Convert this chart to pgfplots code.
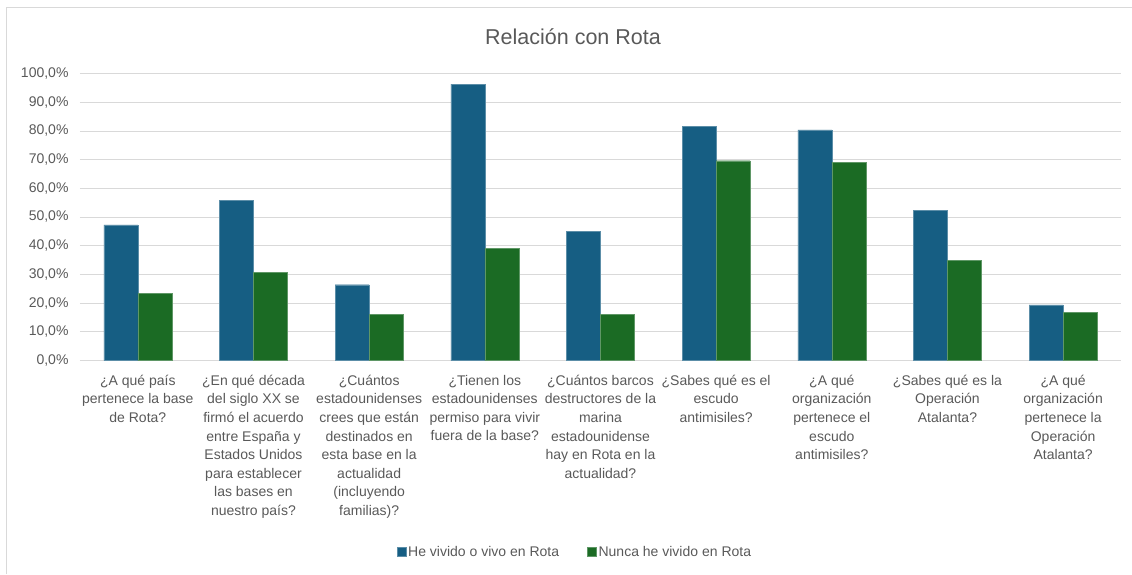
\documentclass[border=0pt]{standalone}
\usepackage{pgfplots}
\pgfplotsset{compat=1.18}
\usepackage{fontspec}
\setmainfont{Liberation Sans}
\definecolor{cblue}{RGB}{22,94,131}
\definecolor{cgreen}{RGB}{27,107,36}
\definecolor{tgray}{RGB}{89,89,89}
\definecolor{ggray}{RGB}{217,217,217}
\begin{document}
\begin{tikzpicture}
\path[use as bounding box] (0pt,0pt) rectangle (1132pt,574pt);
\draw[ggray,line width=0.8pt] (6pt,0pt) -- (6pt,567pt) -- (1132pt,567pt);
\node[text=tgray,font=\fontsize{21.5}{25}\selectfont] at (573pt,537pt) {Relación con Rota};
\begin{axis}[
  at={(80pt,213.5pt)}, anchor=south west,
  scale only axis, width=1041pt, height=287pt,
  xmin=-0.5, xmax=8.5, ymin=0, ymax=100,
  ytick={0,10,...,100},
  xtick={0,...,8},
  xticklabels={
    {¿A qué país\\pertenece la base\\de Rota?},
    {¿En qué década\\del siglo XX se\\firmó el acuerdo\\entre España y\\Estados Unidos\\para establecer\\las bases en\\nuestro país?},
    {¿Cuántos\\estadounidenses\\crees que están\\destinados en\\esta base en la\\actualidad\\(incluyendo\\familias)?},
    {¿Tienen los\\estadounidenses\\permiso para vivir\\fuera de la base?},
    {¿Cuántos barcos\\destructores de la\\marina\\estadounidense\\hay en Rota en la\\actualidad?},
    {¿Sabes qué es el\\escudo\\antimisiles?},
    {¿A qué\\organización\\pertenece el\\escudo\\antimisiles?},
    {¿Sabes qué es la\\Operación\\Atalanta?},
    {¿A qué\\organización\\pertenece la\\Operación\\Atalanta?}
  },
  xticklabel style={align=center, text=tgray, font=\fontsize{14}{18.6}\selectfont, anchor=north, yshift=-11pt},
  yticklabel={\pgfmathprintnumber[fixed,fixed zerofill,precision=1,use comma]{\tick}\%},
  yticklabel style={text=tgray, font=\fontsize{14}{17}\selectfont, xshift=-8pt},
  /pgf/number format/assume math mode=true,
  major tick length=0pt,
  ymajorgrids, grid style={ggray, line width=0.8pt},
  axis x line*=bottom, axis y line*=left,
  y axis line style={draw=none},
  x axis line style={ggray, line width=0.8pt, -},
  ybar, bar width=34pt,
  legend columns=2,
  legend style={at={(0.4755,-0.667)}, anchor=center, draw=none, fill=none,
    font=\fontsize{14}{17}\selectfont, text=tgray,
    /tikz/every even column/.append style={column sep=26pt}},
  legend image code/.code={\fill[#1] (0pt,-4.5pt) rectangle (9pt,4.5pt);},
]
\addplot[fill=cblue, draw=cblue!70!white, line width=0.4pt, bar shift=-17pt] coordinates {
 (0,47.3) (1,55.8) (2,26.4) (3,96.3) (4,44.9) (5,81.6) (6,80.4) (7,52.2) (8,19.4)};
\addlegendentry{He vivido o vivo en Rota}
\addplot[fill=cgreen, draw=cgreen!70!white, line width=0.4pt, bar shift=17pt] coordinates {
 (0,23.4) (1,30.6) (2,16.2) (3,39.0) (4,16.2) (5,69.6) (6,69.1) (7,35.0) (8,16.8)};
\addlegendentry{Nunca he vivido en Rota}
\end{axis}
\end{tikzpicture}
\end{document}
